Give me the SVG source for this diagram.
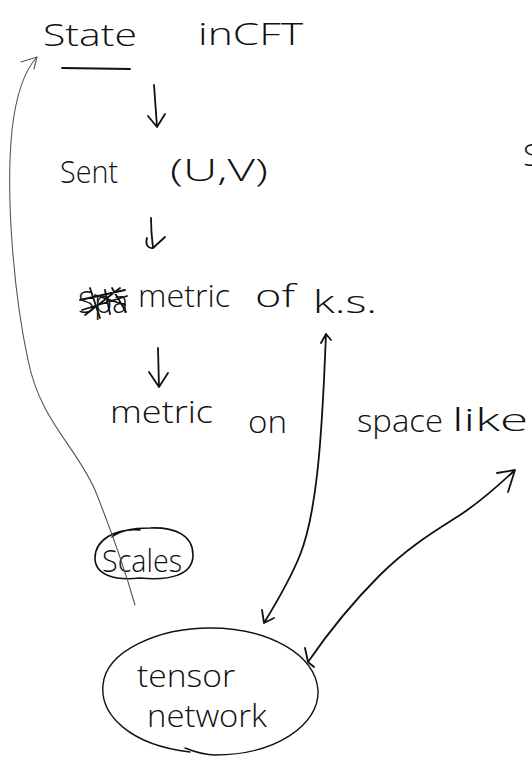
<svg xmlns="http://www.w3.org/2000/svg" width="532" height="757" viewBox="0 0 532 757">
<style>
.t{font-family:"Open Sans","Liberation Sans","DejaVu Sans",sans-serif;font-weight:300;fill:#111;font-size:32px}
.pen{fill:none;stroke:#111;stroke-width:1.8;stroke-linecap:round;stroke-linejoin:round}
.thin{fill:none;stroke:#555;stroke-width:1.1;stroke-linecap:round}
</style>
<rect width="532" height="757" fill="#fff"/>
<g id="state">
<text class="t" x="43" y="46" textLength="94" lengthAdjust="spacingAndGlyphs">State</text>
<text class="t" x="198" y="45" textLength="105" lengthAdjust="spacingAndGlyphs">inCFT</text>
<path class="pen" d="M62,68 L130,69"/>
</g>
<g id="sent">
<text class="t" x="60" y="183" textLength="58" lengthAdjust="spacingAndGlyphs">Sent</text>
<text class="t" x="170" y="181" textLength="98" lengthAdjust="spacingAndGlyphs">(U,V)</text>
</g>
<g id="metric-ks">
<text class="t" font-size="28" x="78" y="313" textLength="50" lengthAdjust="spacingAndGlyphs">Spa</text>
<path class="pen" d="M80,300 L125,290 M82,310 L127,296 M85,315 L120,288 M90,288 L100,318 M95,295 L125,305 M105,290 L110,314 M112,288 L126,312"/>
<text class="t" x="138" y="307" textLength="92" lengthAdjust="spacingAndGlyphs">metric</text>
<text class="t" x="255" y="307" textLength="40" lengthAdjust="spacingAndGlyphs">of</text>
<text class="t" font-size="38" x="313" y="313" textLength="64" lengthAdjust="spacingAndGlyphs">k.s.</text>
</g>
<g id="metric-on">
<text class="t" x="110" y="423" textLength="103" lengthAdjust="spacingAndGlyphs">metric</text>
<text class="t" x="248" y="433" textLength="39" lengthAdjust="spacingAndGlyphs">on</text>
</g>
<g id="spacelike">
<text class="t" x="357" y="432" textLength="86" lengthAdjust="spacingAndGlyphs">space</text>
<text class="t" font-size="38" x="452" y="431" textLength="76" lengthAdjust="spacingAndGlyphs">like</text>
</g>
<g id="edge-s">
<text class="t" x="523" y="166">S</text>
</g>
<g id="scales">
<path class="pen" style="stroke-width:1.6" d="M140,530 C115,528 95,540 95,558 C95,575 115,581 140,578 C170,581 193,575 193,555 C193,535 175,527 150,528 C130,528 118,532 112,537"/>
<text class="t" font-size="28" x="102" y="572" textLength="80" lengthAdjust="spacingAndGlyphs">Scales</text>
</g>
<g id="tensor-network">
<path class="pen" style="stroke-width:1.4" d="M190,752 C130,745 100,715 103,685 C106,650 160,628 210,628 C270,628 315,655 318,690 C320,725 275,755 215,755 C205,755 195,752 185,748"/>
<text class="t" x="137" y="687" textLength="98" lengthAdjust="spacingAndGlyphs">tensor</text>
<text class="t" x="147" y="727" textLength="120" lengthAdjust="spacingAndGlyphs">network</text>
</g>
<g id="connectors">
<path class="pen" d="M154,85 L157,127 M148,116 L157,127 L165,114"/>
<path class="pen" d="M151,218 C151,230 152,240 153,248 M147,238 C145,244 148,249 153,248 M165,237 L153,248"/>
<path class="pen" d="M158,348 L159,387 M149,372 L159,387 L168,373"/>
<path class="pen" d="M326,334 L324,380 C322,420 320,450 317,475 C313,510 308,535 300,555 C290,580 275,605 264,623 M321,343 L326,334 L331,340 M262,610 L264,623 L274,618"/>
<path class="pen" d="M308,662 C330,630 355,600 380,575 C410,545 440,528 460,515 C480,502 500,484 515,470 M497,473 L515,470 L508,492 M305,648 L308,662 L314,667"/>
<path class="thin" d="M135,605 C125,570 115,540 95,490 C75,445 40,420 28,360 C15,300 5,200 12,130 C16,95 25,70 37,57 M21,62 L37,57 L34,69"/>
</g>
</svg>
